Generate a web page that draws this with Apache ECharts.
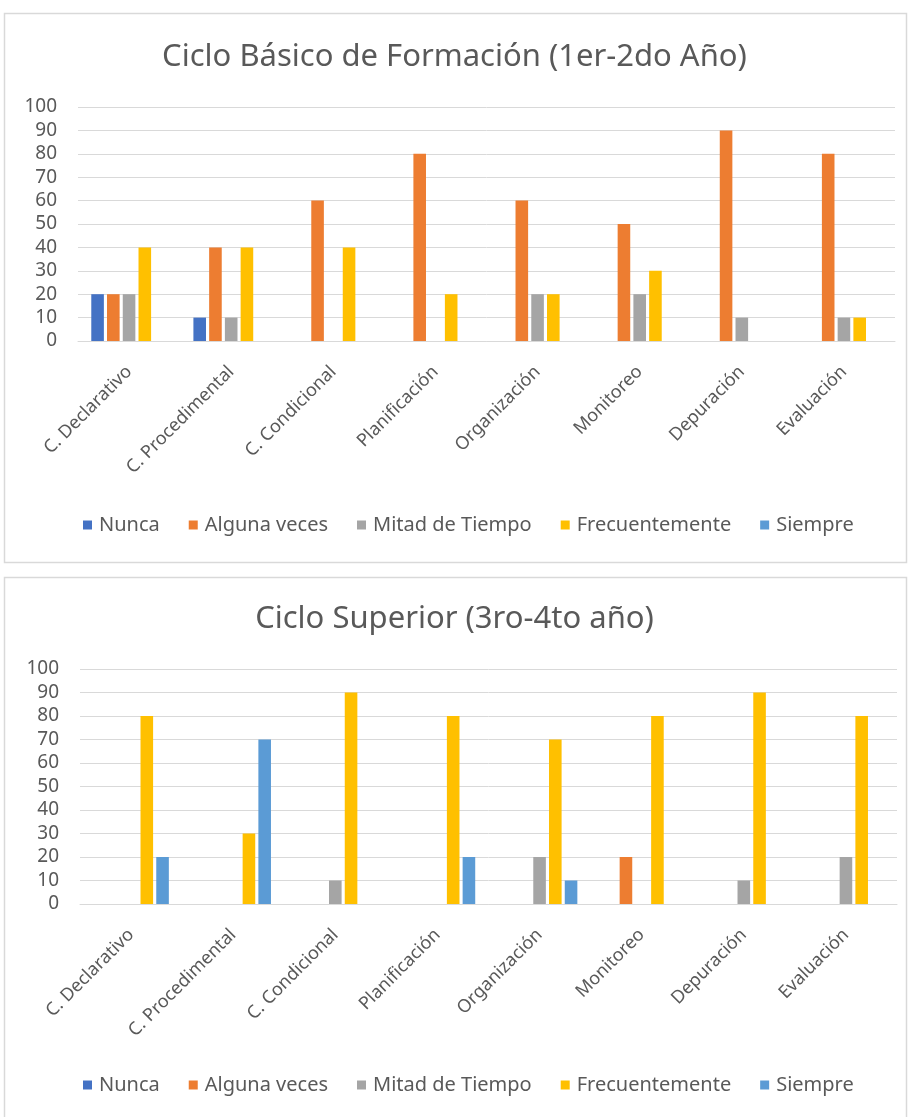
<!DOCTYPE html>
<html>
<head>
<meta charset="utf-8">
<script src="https://cdn.jsdelivr.net/npm/echarts@6.0.0/dist/echarts.min.js"></script>
<style>
  html, body { margin: 0; padding: 0; background: #ffffff; }
  #chart { width: 909px; height: 1117px; }
</style>
</head>
<body>
<div id="chart"></div>
<script>
// categorias comunes a los dos graficos
const categorias = ['C. Declarativo', 'C. Procedimental', 'C. Condicional', 'Planificación',
  'Organización', 'Monitoreo', 'Depuración', 'Evaluación'];
const nombresSerie = ['Nunca', 'Alguna veces', 'Mitad de Tiempo', 'Frecuentemente', 'Siempre'];
const colores = ['#4472C4', '#ED7D31', '#A5A5A5', '#FFC000', '#5B9BD5'];
const ticksY = [0, 10, 20, 30, 40, 50, 60, 70, 80, 90, 100];

// Ciclo Basico (1er-2do)
const basicoNunca = [20, 10, 0, 0, 0, 0, 0, 0];
const basicoAlgunas = [20, 40, 60, 80, 60, 50, 90, 80];
const basicoMitad = [20, 10, 0, 0, 20, 20, 10, 10];
const basicoFrecuente = [40, 40, 40, 20, 20, 30, 0, 10];
const basicoSiempre = [0, 0, 0, 0, 0, 0, 0, 0];

// Ciclo Superior (3ro-4to)
const superiorNunca = [0, 0, 0, 0, 0, 0, 0, 0];
const superiorAlgunas = [0, 0, 0, 0, 0, 20, 0, 0];
const superiorMitad = [0, 0, 10, 0, 20, 0, 10, 20];
const superiorFrecuente = [80, 30, 90, 80, 70, 80, 90, 80];
const superiorSiempre = [20, 70, 0, 20, 10, 0, 0, 0];

const datosBasico = [basicoNunca, basicoAlgunas, basicoMitad, basicoFrecuente, basicoSiempre];
const datosSuperior = [superiorNunca, superiorAlgunas, superiorMitad, superiorFrecuente, superiorSiempre];

const fuente = '"Noto Sans", "Open Sans", sans-serif';
const gris = '#595959';
const lineaGris = '#d9d9d9';

function ejeX(idx) {
  return {
    type: 'category', gridIndex: idx, data: categorias,
    axisTick: { show: false },
    axisLine: { lineStyle: { color: lineaGris, width: 1 } },
    axisLabel: { rotate: 45, color: gris, fontFamily: fuente, fontSize: 18, margin: 28 }
  };
}
function ejeY(idx) {
  return {
    type: 'value', gridIndex: idx, min: ticksY[0], max: ticksY[ticksY.length - 1], interval: 10,
    axisLine: { show: false }, axisTick: { show: false },
    splitLine: { lineStyle: { color: lineaGris, width: 1 } },
    axisLabel: { color: gris, fontFamily: fuente, fontSize: 19, margin: 21 }
  };
}
function series(datos, idx) {
  return datos.map((d, i) => ({
    name: nombresSerie[i], type: 'bar', xAxisIndex: idx, yAxisIndex: idx,
    data: d, itemStyle: { color: colores[i] },
    barGap: '25%', barCategoryGap: '26%'
  }));
}
function leyenda(top) {
  return {
    data: nombresSerie, top: top, left: 78, icon: 'rect',
    itemWidth: 9, itemHeight: 9, itemGap: 29,
    textStyle: { color: gris, fontFamily: fuente, fontSize: 20, padding: [0, 0, 0, 2] }
  };
}

const chart = echarts.init(document.getElementById('chart'), null, { renderer: 'canvas' });
chart.setOption({
  animation: false,
  color: colores,
  graphic: [
    { type: 'rect', shape: { x: 4.5, y: 13.5, width: 902, height: 549 },
      style: { fill: 'none', stroke: lineaGris, lineWidth: 1.5 }, silent: true },
    { type: 'rect', shape: { x: 4.5, y: 577.5, width: 902, height: 560 },
      style: { fill: 'none', stroke: lineaGris, lineWidth: 1.5 }, silent: true }
  ],
  title: [
    { text: 'Ciclo Básico de Formación (1er-2do Año)', left: 'center', top: 37,
      textStyle: { color: gris, fontFamily: fuente, fontSize: 31, fontWeight: 'normal' } },
    { text: 'Ciclo Superior (3ro-4to año)', left: 'center', top: 599,
      textStyle: { color: gris, fontFamily: fuente, fontSize: 31, fontWeight: 'normal' } }
  ],
  legend: [leyenda(510), leyenda(1070)],
  grid: [
    { left: 78, top: 107, width: 817, height: 234, outerBoundsMode: 'none' },
    { left: 80, top: 669, width: 817, height: 235, outerBoundsMode: 'none' }
  ],
  xAxis: [ejeX(0), ejeX(1)],
  yAxis: [ejeY(0), ejeY(1)],
  series: series(datosBasico, 0).concat(series(datosSuperior, 1))
});
</script>
</body>
</html>
